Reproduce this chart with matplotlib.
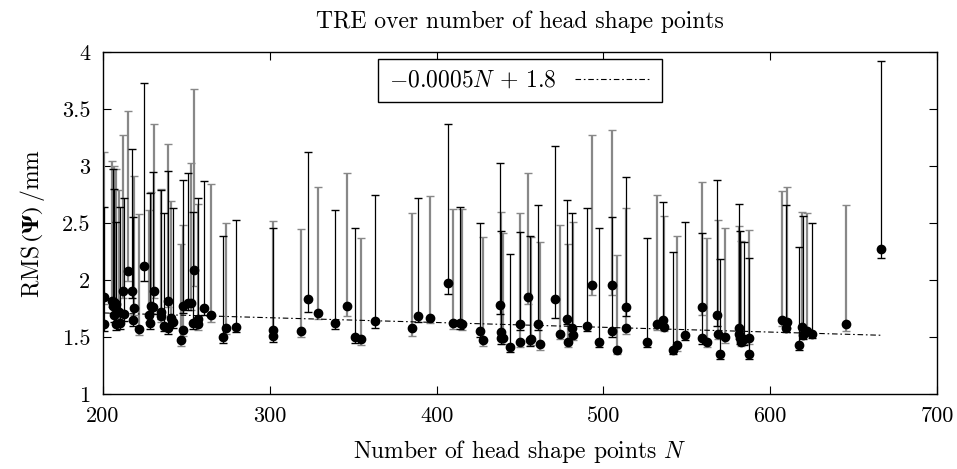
import matplotlib
matplotlib.use('Agg')
import matplotlib.pyplot as plt
import numpy as np

plt.rcParams['font.family'] = 'serif'
plt.rcParams['font.serif'] = ['cmr10', 'DejaVu Serif']
plt.rcParams['mathtext.fontset'] = 'cm'
plt.rcParams['axes.formatter.use_mathtext'] = True

# Number of head shape points
n_points = [200.6, 200.8, 205.6, 205.9, 206.6, 206.9, 207.8, 208.0, 209.8, 210.2,
            211.8, 212.8, 214.8, 217.7, 218.6, 217.9, 221.8, 224.8, 227.8, 228.0,
            228.8, 229.8, 230.8, 234.8, 235.0, 236.8, 238.8, 239.0, 241.0, 241.8,
            246.8, 247.8, 248.2, 250.8, 252.8, 253.7, 254.7, 256.8, 257.2, 260.7,
            264.7, 271.8, 273.7, 279.7, 301.7, 302.0, 318.7, 323.1, 329.1, 339.1,
            346.1, 351.1, 354.7, 363.1, 385.1, 389.0, 396.0, 407.0, 410.0, 414.0,
            415.5, 426.0, 428.0, 438.0, 438.5, 438.8, 440.0, 444.0, 450.0, 450.3,
            455.0, 456.0, 456.8, 461.0, 462.0, 471.0, 474.0, 478.0, 479.0, 481.0,
            481.8, 490.0, 493.4, 497.4, 505.0, 505.2, 508.0, 513.3, 513.6, 526.4,
            532.0, 536.0, 536.6, 542.0, 544.0, 549.0, 559.0, 559.3, 562.0, 568.0,
            568.6, 570.0, 573.0, 581.0, 581.2, 581.6, 582.5, 584.3, 587.3, 587.5,
            607.3, 609.3, 610.3, 617.3, 619.0, 619.4, 622.2, 625.3, 645.3, 666.5]
# RMS(Psi) values
rms = [1.85, 1.61, 1.82, 1.77, 1.81, 1.69, 1.79, 1.61, 1.72, 1.62,
       1.90, 1.70, 2.08, 1.90, 1.75, 1.65, 1.57, 2.12, 1.69, 1.62,
       1.77, 1.76, 1.90, 1.72, 1.68, 1.60, 1.82, 1.58, 1.67, 1.63,
       1.47, 1.77, 1.56, 1.80, 1.80, 1.62, 2.09, 1.66, 1.61, 1.75,
       1.69, 1.50, 1.58, 1.59, 1.56, 1.51, 1.55, 1.83, 1.71, 1.62,
       1.77, 1.50, 1.48, 1.64, 1.58, 1.68, 1.67, 1.97, 1.62, 1.62,
       1.61, 1.55, 1.47, 1.78, 1.54, 1.49, 1.49, 1.41, 1.46, 1.61,
       1.85, 1.47, 1.48, 1.61, 1.44, 1.83, 1.53, 1.66, 1.46, 1.58,
       1.52, 1.60, 1.96, 1.46, 1.96, 1.55, 1.39, 1.76, 1.58, 1.46,
       1.61, 1.65, 1.59, 1.39, 1.43, 1.52, 1.76, 1.49, 1.46, 1.69,
       1.53, 1.35, 1.50, 1.58, 1.53, 1.49, 1.46, 1.48, 1.49, 1.35,
       1.65, 1.58, 1.63, 1.43, 1.59, 1.52, 1.55, 1.53, 1.61, 2.27]
# upper error bound
upper = [3.12, 2.64, 3.04, 2.97, 3.00, 2.80, 2.97, 2.51, 2.79, 2.64,
         3.27, 2.72, 3.48, 3.15, 2.91, 2.55, 2.58, 3.73, 2.61, 2.76,
         2.77, 2.95, 3.37, 2.79, 2.80, 2.59, 3.19, 2.96, 2.69, 2.63,
         2.32, 2.88, 2.48, 2.94, 3.03, 2.60, 3.68, 2.72, 2.67, 2.87,
         2.84, 2.39, 2.50, 2.53, 2.52, 2.46, 2.45, 3.12, 2.82, 2.61,
         2.94, 2.46, 2.37, 2.75, 2.59, 2.72, 2.74, 3.37, 2.62, 2.64,
         2.62, 2.50, 2.38, 3.03, 2.60, 2.43, 2.41, 2.23, 2.59, 2.42,
         2.94, 2.39, 2.38, 2.66, 2.33, 3.18, 2.48, 2.70, 2.32, 2.59,
         2.51, 2.63, 3.27, 2.46, 3.32, 2.55, 2.22, 2.90, 2.63, 2.37,
         2.75, 2.68, 2.56, 2.25, 2.39, 2.51, 2.86, 2.41, 2.37, 2.88,
         2.53, 2.18, 2.46, 2.67, 2.47, 2.43, 2.34, 2.33, 2.44, 2.19,
         2.78, 2.66, 2.82, 2.29, 2.60, 2.56, 2.59, 2.50, 2.66, 3.92]
# lower error bound
lower = [1.79, 1.55, 1.76, 1.71, 1.75, 1.63, 1.73, 1.56, 1.66, 1.57,
         1.84, 1.64, 1.99, 1.84, 1.69, 1.60, 1.52, 1.99, 1.63, 1.57,
         1.71, 1.70, 1.84, 1.66, 1.63, 1.55, 1.76, 1.53, 1.62, 1.58,
         1.42, 1.71, 1.51, 1.74, 1.74, 1.57, 1.95, 1.61, 1.56, 1.69,
         1.63, 1.45, 1.53, 1.54, 1.51, 1.46, 1.50, 1.72, 1.66, 1.57,
         1.68, 1.45, 1.43, 1.58, 1.51, 1.63, 1.62, 1.88, 1.57, 1.57,
         1.56, 1.50, 1.42, 1.70, 1.49, 1.44, 1.44, 1.37, 1.41, 1.56,
         1.79, 1.42, 1.43, 1.56, 1.39, 1.67, 1.48, 1.61, 1.41, 1.53,
         1.47, 1.55, 1.87, 1.41, 1.87, 1.50, 1.35, 1.68, 1.53, 1.41,
         1.56, 1.60, 1.55, 1.35, 1.38, 1.47, 1.69, 1.44, 1.41, 1.60,
         1.48, 1.31, 1.45, 1.53, 1.48, 1.44, 1.42, 1.43, 1.44, 1.31,
         1.60, 1.54, 1.58, 1.39, 1.54, 1.48, 1.51, 1.49, 1.55, 2.19]

# regression line (as drawn)
fit_slope = -0.00042
fit_intercept = 1.795
fit_label = r'$-0.0005N\,+\,1.8$'

x_ticks = [200, 300, 400, 500, 600, 700]
y_ticks = [1, 1.5, 2, 2.5, 3, 3.5, 4]
y_tick_labels = ['1', '1.5', '2', '2.5', '3', '3.5', '4']

N = np.array(n_points)
R = np.array(rms)
U = np.array(upper)
L = np.array(lower)

fig = plt.figure(figsize=(9.57, 4.69), dpi=100)
ax = fig.add_axes([0.1076, 0.160, 0.8715, 0.729])

idx = np.arange(len(N))
groups = [(idx % 2 == 0, '#888888', 1.6), (idx % 2 == 1, 'black', 0.9)]
for mask, col, lw in groups:
    ax.errorbar(N[mask], R[mask], yerr=[R[mask] - L[mask], U[mask] - R[mask]],
                fmt='none', ecolor=col, elinewidth=lw, capsize=3.2, capthick=1.0, zorder=2)
ax.plot(N, R, 'o', color='black', markersize=6, zorder=4)

xf = np.array([N.min(), N.max()])
ax.plot(xf, fit_slope * xf + fit_intercept, color='black', lw=0.8,
        dashes=[5, 2.5, 1.5, 2.5], label=fit_label, zorder=3)

ax.set_xlim(200, 700)
ax.set_ylim(1, 4)
ax.set_xticks(x_ticks)
ax.set_xticklabels([str(t) for t in x_ticks])
ax.set_yticks(y_ticks)
ax.set_yticklabels(y_tick_labels)
ax.tick_params(direction='in', length=6, width=0.8, top=True, right=True,
               labelsize=16, pad=9)
for s in ax.spines.values():
    s.set_linewidth(1.0)

ax.set_title('TRE over number of head shape points', fontsize=17, pad=17)
ax.set_xlabel(r'Number of head shape points $N$', fontsize=17, labelpad=9)
ax.set_ylabel(r'RMS$\;(\mathbf{\Psi})\;$/mm', fontsize=17, labelpad=11,
              math_fontfamily='stix')

leg = ax.legend(loc='upper center', bbox_to_anchor=(0.5, 0.9795), fontsize=17,
                markerfirst=False, frameon=True, fancybox=False, handlelength=3.2,
                borderpad=0.45, handletextpad=0.8, borderaxespad=0)
leg.get_frame().set_edgecolor('black')
leg.get_frame().set_linewidth(1.0)
leg.get_frame().set_alpha(1)

fig.savefig('out.png', dpi=100)
